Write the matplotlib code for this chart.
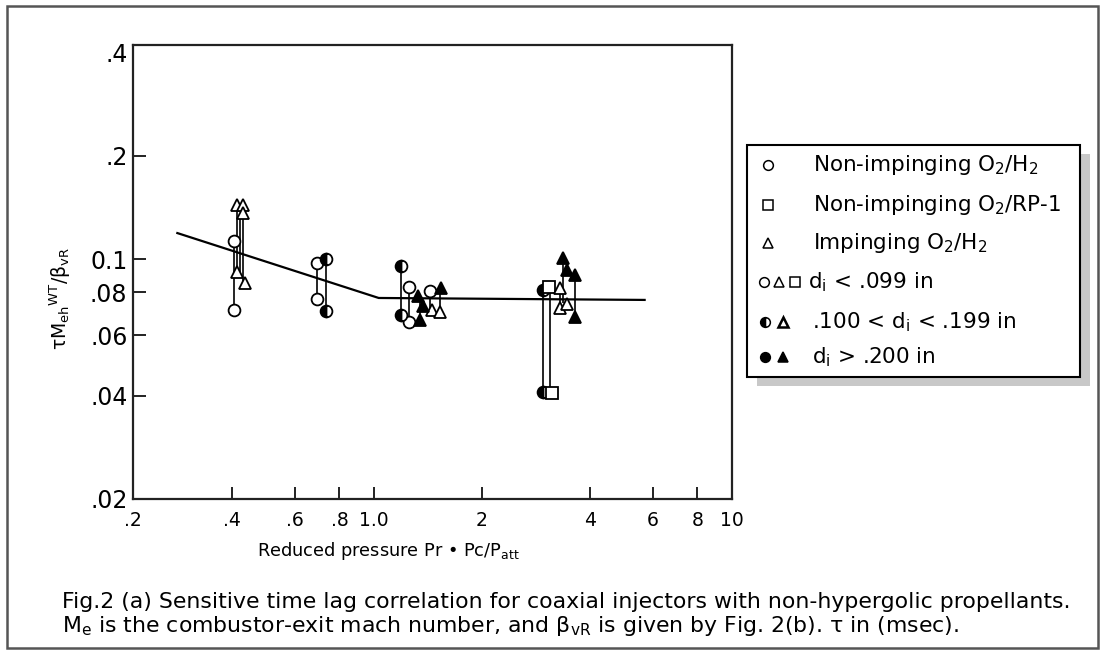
import matplotlib

matplotlib.use("Agg")
import matplotlib.pyplot as plt
from matplotlib.patches import Rectangle

plt.rcParams["font.family"] = ["DejaVu Sans"]
plt.rcParams["mathtext.default"] = "regular"

# correlation line (reduced pressure, tau*Me^wt/beta)
fit_pr = [0.282, 1.03, 5.7]
fit_val = [0.119, 0.077, 0.076]

# symbols
open_circle_pr = [0.406, 0.406, 0.693, 0.693, 1.25, 1.25, 1.43]
open_circle_val = [0.1128, 0.071, 0.0973, 0.0765, 0.0829, 0.0655, 0.0807]

half_circle_pr = [0.734, 0.734, 1.19, 1.19, 2.97, 2.97]
half_circle_val = [0.100, 0.0706, 0.0954, 0.0687, 0.0812, 0.0409]

open_square_pr = [3.08, 3.14]
open_square_val = [0.0829, 0.0407]

open_tri_pr = [0.413, 0.431, 0.431, 0.413, 0.435, 1.45, 1.53, 3.30, 3.30, 3.45]
open_tri_val = [0.1436, 0.1436, 0.136, 0.0917, 0.0851, 0.071, 0.0701, 0.0823, 0.072, 0.074]

filled_tri_pr = [1.33, 1.37, 1.34, 1.54, 3.37, 3.45, 3.65, 3.65]
filled_tri_val = [0.078, 0.073, 0.0664, 0.0823, 0.101, 0.093, 0.0898, 0.0677]

# vertical connectors between paired points
link_pr = [0.406, 0.413, 0.422, 0.431, 0.693, 0.734, 1.19, 1.25, 1.34,
           1.43, 1.53, 2.97, 3.10, 3.37, 3.65, 3.30]
link_lo = [0.071, 0.0917, 0.0917, 0.0851, 0.0765, 0.0706, 0.0687, 0.0655, 0.0664,
           0.071, 0.0701, 0.0409, 0.0407, 0.0745, 0.0677, 0.072]
link_hi = [0.1128, 0.1436, 0.136, 0.1436, 0.0973, 0.100, 0.0954, 0.0829, 0.078,
           0.0807, 0.0823, 0.0812, 0.0829, 0.101, 0.0898, 0.0823]

x_ticks = [0.212, 0.4, 0.6, 0.8, 1.0, 2, 4, 6, 8, 10]
x_labels = [".2", ".4", ".6", ".8", "1.0", "2", "4", "6", "8", "10"]
y_ticks = [0.02, 0.04, 0.06, 0.08, 0.1, 0.2, 0.4]
y_labels = [".02", ".04", ".06", ".08", "0.1", ".2", ".4"]

legend_labels = [
    "Non-impinging O$_2$/H$_2$",
    "Non-impinging O$_2$/RP-1",
    "Impinging O$_2$/H$_2$",
    "d$_i$ < .099 in",
    ".100 < d$_i$ < .199 in",
    "d$_i$ > .200 in",
]

W, H = 1107, 658
fig = plt.figure(figsize=(W / 100, H / 100), dpi=100)


def px_rect(x0, y0, x1, y1):
    return [x0 / W, 1 - y1 / H, (x1 - x0) / W, (y1 - y0) / H]


# outer frame
fig.patches.append(Rectangle((7 / W, 1 - 648 / H), 1091 / W, 642 / H,
                             transform=fig.transFigure, fill=False,
                             edgecolor="#555555", lw=1.8))

ax = fig.add_axes(px_rect(133, 45, 732, 499))
ax.set_xscale("log")
ax.set_yscale("log")
ax.set_xlim(0.212, 10)
ax.set_ylim(0.02, 0.42)

ax.plot(fit_pr, fit_val, color="black", lw=1.6, zorder=2)
ax.vlines(link_pr, link_lo, link_hi, color="black", lw=1.2, zorder=3)

ms = 8.5
ax.plot(open_circle_pr, open_circle_val, "o", ls="none", ms=ms,
        mfc="white", mec="black", mew=1.3, zorder=4)
ax.plot(half_circle_pr, half_circle_val, "o", ls="none", ms=ms,
        mfc="black", mfcalt="white", fillstyle="left", mec="black", mew=1.3, zorder=4)
ax.plot(open_square_pr, open_square_val, "s", ls="none", ms=ms,
        mfc="white", mec="black", mew=1.3, zorder=4)
ax.plot(open_tri_pr, open_tri_val, "^", ls="none", ms=ms + 0.5,
        mfc="white", mec="black", mew=1.3, zorder=4)
ax.plot(filled_tri_pr, filled_tri_val, "^", ls="none", ms=ms + 0.5,
        mfc="black", mec="black", mew=1.3, zorder=5)

ax.minorticks_off()
ax.set_xticks(x_ticks)
ax.set_xticklabels(x_labels)
ax.set_yticks(y_ticks)
ax.set_yticklabels(y_labels)
ax.tick_params(axis="x", direction="in", length=9, width=1.4, labelsize=13.5, pad=9,
               color="#222222")
ax.tick_params(axis="y", direction="in", length=9, width=1.4, labelsize=17, pad=4,
               color="#222222")
ax.yaxis.get_major_ticks()[-1].tick1line.set_visible(False)
for s in ax.spines.values():
    s.set_linewidth(1.6)
    s.set_color("#222222")

fig.text(388 / W, 1 - 551 / H, "Reduced pressure Pr \u2022 Pc/P$_{att}$",
         ha="center", va="center", fontsize=12.8)
fig.text(60 / W, 1 - 298 / H, r"$\tau M_{eh}{}^{WT}/\beta_{vR}$",
         ha="center", va="center", rotation=90, fontsize=13.5)

# legend box with shadow
lax = fig.add_axes(px_rect(747, 145, 1080, 377))
lax.set_xlim(0, 333)
lax.set_ylim(232, 0)
lax.axis("off")
lax.add_patch(Rectangle((10, 9), 333, 232, facecolor="#c8c8c8", edgecolor="none",
                        clip_on=False, zorder=0))
lax.add_patch(Rectangle((0, 0), 333, 232, facecolor="white", edgecolor="black",
                        lw=1.5, clip_on=False, zorder=1))

row_y = [20, 60, 98, 137, 177, 212]
text_x = [66, 66, 66, 61, 65, 65]
lms = 7
lax.plot([21], [row_y[0]], "o", ms=lms, mfc="white", mec="black", mew=1.1, zorder=2)
lax.plot([21], [row_y[1]], "s", ms=lms, mfc="white", mec="black", mew=1.1, zorder=2)
lax.plot([21], [row_y[2]], "^", ms=lms, mfc="white", mec="black", mew=1.1, zorder=2)
lax.plot([17], [row_y[3]], "o", ms=lms, mfc="white", mec="black", mew=1.1, zorder=2)
lax.plot([32], [row_y[3]], "^", ms=lms, mfc="white", mec="black", mew=1.1, zorder=2)
lax.plot([48], [row_y[3]], "s", ms=lms, mfc="white", mec="black", mew=1.1, zorder=2)
lax.plot([18], [row_y[4]], "o", ms=lms, mfc="black", mfcalt="white", fillstyle="left",
         mec="black", mew=1.1, zorder=2)
lax.plot([36], [row_y[4]], "^", ms=lms, mfc="white", mec="black", mew=1.8, zorder=2)
lax.plot([18], [row_y[5]], "o", ms=lms, mfc="black", mec="black", mew=1.1, zorder=2)
lax.plot([36], [row_y[5]], "^", ms=lms, mfc="black", mec="black", mew=1.1, zorder=2)
for y, x, lab in zip(row_y, text_x, legend_labels):
    lax.text(x, y, lab, ha="left", va="center", fontsize=15.5, zorder=2)

fig.text(62 / W, 1 - 602 / H,
         "Fig.2 (a) Sensitive time lag correlation for coaxial injectors with "
         "non-hypergolic propellants.",
         ha="left", va="center", fontsize=15.8)
fig.text(62 / W, 1 - 626 / H,
         r"M$_e$ is the combustor-exit mach number, and $\beta_{vR}$ is given by "
         r"Fig. 2(b). $\tau$ in (msec).",
         ha="left", va="center", fontsize=15.8)

fig.savefig("out.png", dpi=100)
